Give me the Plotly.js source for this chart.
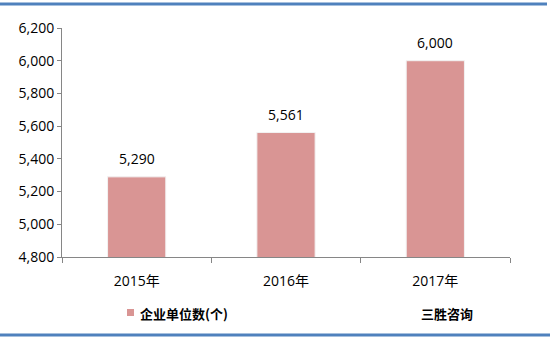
<!DOCTYPE html>
<html><head><meta charset="utf-8">
<script src="https://cdn.plot.ly/plotly-3.0.1.min.js"></script>
<style>html,body{margin:0;padding:0;background:#fff}</style>
</head><body><div id="chart" style="width:550px;height:340px"></div>
<script>
const categories = ["2015年", "2016年", "2017年"];
const values = [5290, 5561, 6000];
const valueLabels = ["5,290", "5,561", "6,000"];
const seriesName = "企业单位数(个)";
const yTicks = [4800, 5000, 5200, 5400, 5600, 5800, 6000, 6200];
const yTickLabels = ["4,800", "5,000", "5,200", "5,400", "5,600", "5,800", "6,000", "6,200"];
const sourceText = "三胜咨询";

const W = 550, H = 340, ml = 62, mr = 40, mt = 28, mb = 83;
const pw = W - ml - mr, ph = H - mt - mb;
const px = x => (x - ml) / pw;
const py = y => (H - mb - y) / ph;

const font = "Open Sans, Noto Sans CJK SC, sans-serif";
const cjk = "Noto Sans CJK SC, sans-serif";
const barColor = "#D99594";

const data = [{
  type: "bar", x: categories, y: values, name: seriesName,
  marker: {color: barColor, line: {color: "#F2F2F2", width: 1}},
  width: 0.39, showlegend: false, hoverinfo: "none"
}];

const annotations = categories.map((c, i) => ({
  xref: "x", yref: "y", x: c, y: values[i], text: valueLabels[i], showarrow: false,
  yanchor: "bottom", yshift: 7, font: {family: font, size: 14, color: "#000"}
}));
annotations.push(
  {xref: "paper", yref: "paper", x: px(138), y: py(313), text: "<b>" + seriesName + "</b>", showarrow: false,
   font: {family: cjk, size: 13, color: "#000"}, xanchor: "left", yanchor: "middle"},
  {xref: "paper", yref: "paper", x: px(447), y: py(313), text: "<b>" + sourceText + "</b>", showarrow: false,
   font: {family: cjk, size: 13, color: "#000"}, xanchor: "center", yanchor: "middle"}
);

const layout = {
  width: W, height: H,
  margin: {l: ml, r: mr, t: mt, b: mb},
  paper_bgcolor: "#fff", plot_bgcolor: "#fff",
  showlegend: false,
  xaxis: {type: "category", showline: true, linecolor: "#868686", linewidth: 1,
    ticks: "outside", tickson: "boundaries", ticklen: 5, tickcolor: "#868686",
    showgrid: false, tickfont: {family: font, size: 14, color: "#000"}, ticklabelstandoff: 11,
    fixedrange: true},
  yaxis: {range: [4800, 6200], tickvals: yTicks, ticktext: yTickLabels,
    showline: true, linecolor: "#868686", linewidth: 1, ticks: "outside", ticklen: 4,
    tickcolor: "#868686", showgrid: false, zeroline: false,
    tickfont: {family: font, size: 14, color: "#000"}, fixedrange: true},
  shapes: [
    {type: "line", xref: "paper", yref: "paper", x0: px(0), x1: px(547), y0: py(4), y1: py(4),
     line: {color: "#4F81BD", width: 3}},
    {type: "line", xref: "paper", yref: "paper", x0: px(0), x1: px(550), y0: py(335), y1: py(335),
     line: {color: "#4F81BD", width: 3}},
    {type: "rect", xref: "paper", yref: "paper", x0: px(127), x1: px(134), y0: py(309), y1: py(316),
     fillcolor: barColor, line: {width: 0}}
  ],
  annotations: annotations
};

Plotly.newPlot("chart", data, layout, {staticPlot: true, displayModeBar: false});
</script></body></html>
